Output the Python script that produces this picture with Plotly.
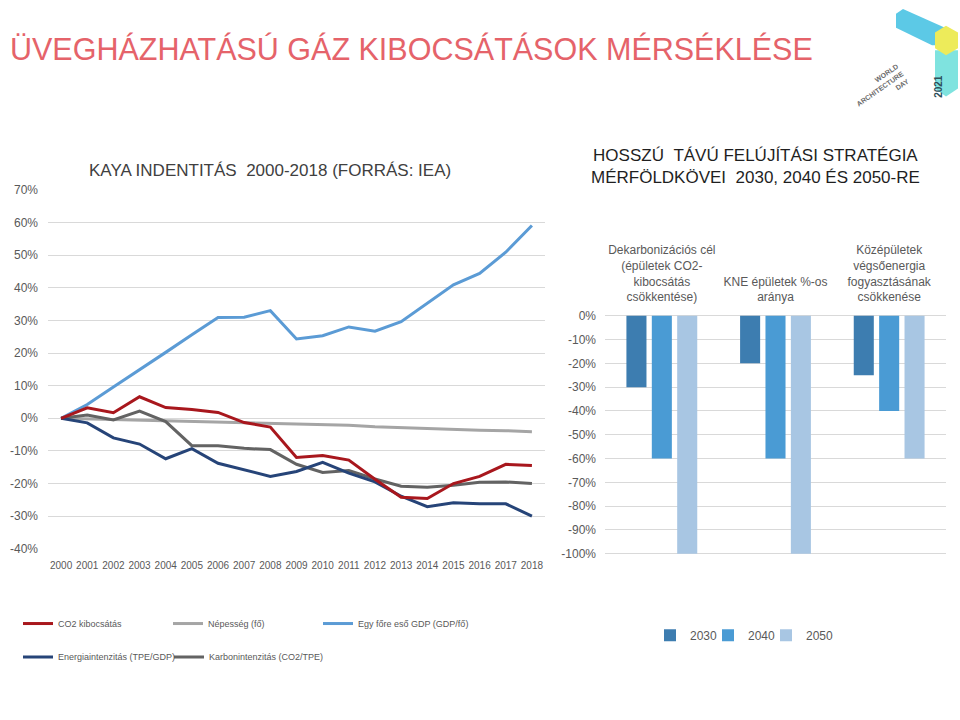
import plotly.graph_objects as go

# ---------------- data ----------------
years = list(range(2000, 2019))
co2 = [0, 3.2, 1.7, 6.6, 3.3, 2.7, 1.8, -1.3, -2.7, -12.0, -11.4, -12.8, -18.7, -24.2, -24.6, -20.0, -17.8, -14.1, -14.5]
population = [0, -0.2, -0.4, -0.6, -0.9, -1.1, -1.2, -1.4, -1.6, -1.8, -2.0, -2.1, -2.6, -2.9, -3.2, -3.5, -3.7, -3.8, -4.1]
gdp_per_capita = [0, 4.2, 9.6, 14.8, 20.2, 25.6, 30.9, 31.0, 33.0, 24.3, 25.3, 28.0, 26.7, 29.6, 35.3, 40.9, 44.4, 50.9, 59.1]
energy_intensity = [0, -1.4, -6.0, -7.9, -12.4, -9.3, -13.8, -15.7, -17.8, -16.3, -13.5, -16.8, -19.5, -23.9, -27.1, -25.9, -26.2, -26.2, -30.0]
carbon_intensity = [0, 1.0, -0.5, 2.2, -1.0, -8.4, -8.4, -9.2, -9.6, -14.1, -16.6, -16.0, -18.6, -20.8, -21.1, -20.5, -19.6, -19.5, -20.0]

goal_categories = [
    "Dekarbonizációs cél<br>(épületek CO2-<br>kibocsátás<br>csökkentése)",
    "KNE épületek %-os<br>aránya",
    "Középületek<br>végsőenergia<br>fogyasztásának<br>csökkenése",
]
goal_2030 = [-30, -20, -25]
goal_2040 = [-60, -60, -40]
goal_2050 = [-100, -100, -60]

left_ticks = list(range(-40, 71, 10))
right_ticks = list(range(-100, 1, 10))

# ---------------- styling ----------------
FONT = "Liberation Sans Narrow, Arial Narrow, Liberation Sans, Arial, sans-serif"
W, H = 960, 720
GRID = "#D9D9D9"
TICK = "#595959"


def px(x):
    return x / W


def py(y):
    return 1 - y / H


fig = go.Figure()

line_specs = [
    ("Népesség (fő)", population, "#A5A5A5", "legend2"),
    ("Egy főre eső GDP (GDP/fő)", gdp_per_capita, "#5B9BD5", "legend3"),
    ("Karbonintenzitás (CO2/TPE)", carbon_intensity, "#636363", "legend5"),
    ("Energiaintenzitás (TPE/GDP)", energy_intensity, "#264478", "legend4"),
    ("CO2 kibocsátás", co2, "#A8171D", "legend"),
]
for name, vals, color, lg in line_specs:
    fig.add_trace(go.Scatter(
        x=years, y=vals, name=name, mode="lines",
        line=dict(color=color, width=3),
        xaxis="x", yaxis="y", legend=lg,
    ))

for name, vals, color, lg in [("2030", goal_2030, "#3D7DB0", "legend6"),
                              ("2040", goal_2040, "#4A9BD4", "legend7"),
                              ("2050", goal_2050, "#A8C6E3", "legend8")]:
    fig.add_trace(go.Bar(
        x=goal_categories, y=vals, name=name, marker=dict(color=color, line=dict(width=0)),
        xaxis="x2", yaxis="y2", legend=lg,
    ))

l_pad = 0.3
l_ppu = (552 - 187) / 110.0
r_pad = 0.5
r_ppu = (557 - 315) / 100.0


def single_legend(x, y, size):
    return dict(
        x=px(x), y=py(y), xanchor="left", yanchor="middle",
        orientation="h", font=dict(size=size, color=TICK, family=FONT), itemwidth=30,
        bgcolor="rgba(0,0,0,0)",
    )


fig.update_layout(
    width=W, height=H,
    margin=dict(l=0, r=0, t=0, b=0),
    paper_bgcolor="white", plot_bgcolor="white",
    font=dict(family=FONT, color=TICK),
    bargap=0.33, bargroupgap=0.21,
    xaxis=dict(
        domain=[px(48), px(545)], range=[1999.5, 2018.5],
        tickmode="array", tickvals=years, ticktext=[str(y) for y in years],
        showgrid=False, zeroline=False, showline=False,
        tickfont=dict(size=10, color=TICK, family=FONT),
        anchor="y", ticks="", ticklabelstandoff=8,
    ),
    yaxis=dict(
        domain=[py(552 + l_pad * l_ppu), py(187 - l_pad * l_ppu)],
        range=[-40 - l_pad, 70 + l_pad],
        tickmode="array", tickvals=left_ticks, ticktext=[f"{v}%" for v in left_ticks],
        showgrid=True, gridcolor=GRID, gridwidth=1, zeroline=False, showline=False,
        tickfont=dict(size=12, color=TICK, family=FONT),
        anchor="x", ticks="", ticklabelstandoff=9,
    ),
    xaxis2=dict(
        domain=[px(605), px(946)], side="top", anchor="y2",
        showgrid=False, zeroline=False, showline=False, ticks="",
        tickfont=dict(size=12, color=TICK, family=FONT),
        tickangle=0, ticklabelstandoff=10,
    ),
    yaxis2=dict(
        domain=[py(557 + r_pad * r_ppu), py(315 - r_pad * r_ppu)],
        range=[-100 - r_pad, 0 + r_pad],
        tickmode="array", tickvals=right_ticks, ticktext=[f"{v}%" for v in right_ticks],
        showgrid=True, gridcolor=GRID, gridwidth=1, zeroline=False, showline=False,
        tickfont=dict(size=12, color=TICK, family=FONT),
        anchor="x2", ticks="", ticklabelstandoff=8,
    ),
    legend=single_legend(18, 628, 9),
    legend2=single_legend(168, 628, 9),
    legend3=single_legend(318, 628, 9),
    legend4=single_legend(18, 662, 9),
    legend5=single_legend(169, 662, 9),
    legend6=single_legend(650, 640, 12),
    legend7=single_legend(708, 640, 12),
    legend8=single_legend(766, 640, 12),
    showlegend=True,
)

# titles
fig.add_annotation(
    text="ÜVEGHÁZHATÁSÚ GÁZ KIBOCSÁTÁSOK MÉRSÉKLÉSE",
    x=px(8), y=py(44), xref="paper", yref="paper", xanchor="left", yanchor="middle",
    showarrow=False, font=dict(size=30.5, color="#E5636A", family=FONT),
)
fig.add_annotation(
    text="KAYA INDENTITÁS\u00a0\u00a02000-2018 (FORRÁS: IEA)",
    x=px(270), y=py(167), xref="paper", yref="paper", xanchor="center", yanchor="middle",
    showarrow=False, font=dict(size=17, color="#404040", family=FONT),
)
fig.add_annotation(
    text="HOSSZÚ\u00a0\u00a0TÁVÚ FELÚJÍTÁSI\u00a0STRATÉGIA<br>MÉRFÖLDKÖVEI\u00a0\u00a02030, 2040 ÉS 2050-RE",
    x=px(755), y=py(163), xref="paper", yref="paper", xanchor="center", yanchor="middle",
    showarrow=False, font=dict(size=17, color="#1F1F1F", family=FONT),
)


# ---------------- decorative logo (top right) ----------------
def path(points):
    return "M " + " L ".join(f"{px(x):.5f},{py(y):.5f}" for x, y in points) + " Z"


logo_shapes = [
    ([(896, 8), (903, 3), (945, 22), (945, 40), (932, 40), (896, 22)], "#5CC9E6"),
    ([(935, 45), (958, 45), (958, 84), (946, 92), (935, 84)], "#7FE3DF"),
    ([(935, 27), (946, 20), (958, 27), (958, 43), (946, 50), (935, 43)], "#EDEB5A"),
]
for pts, col in logo_shapes:
    fig.add_shape(type="path", path=path(pts), xref="paper", yref="paper",
                  fillcolor=col, line=dict(width=0), layer="above")

fig.add_annotation(
    text="<b>WORLD<br>ARCHITECTURE<br>DAY</b>", x=px(913), y=py(54), xref="paper", yref="paper",
    showarrow=False, textangle=-35, align="right",
    font=dict(size=7, color="#6B6B6B", family="Liberation Sans, Arial, sans-serif"),
)
fig.add_annotation(
    text="<b>2021</b>", x=px(946), y=py(68), xref="paper", yref="paper",
    showarrow=False, textangle=-90,
    font=dict(size=10, color="#2F4F5A", family="Liberation Sans, Arial, sans-serif"),
)

fig.write_html("out.html")
